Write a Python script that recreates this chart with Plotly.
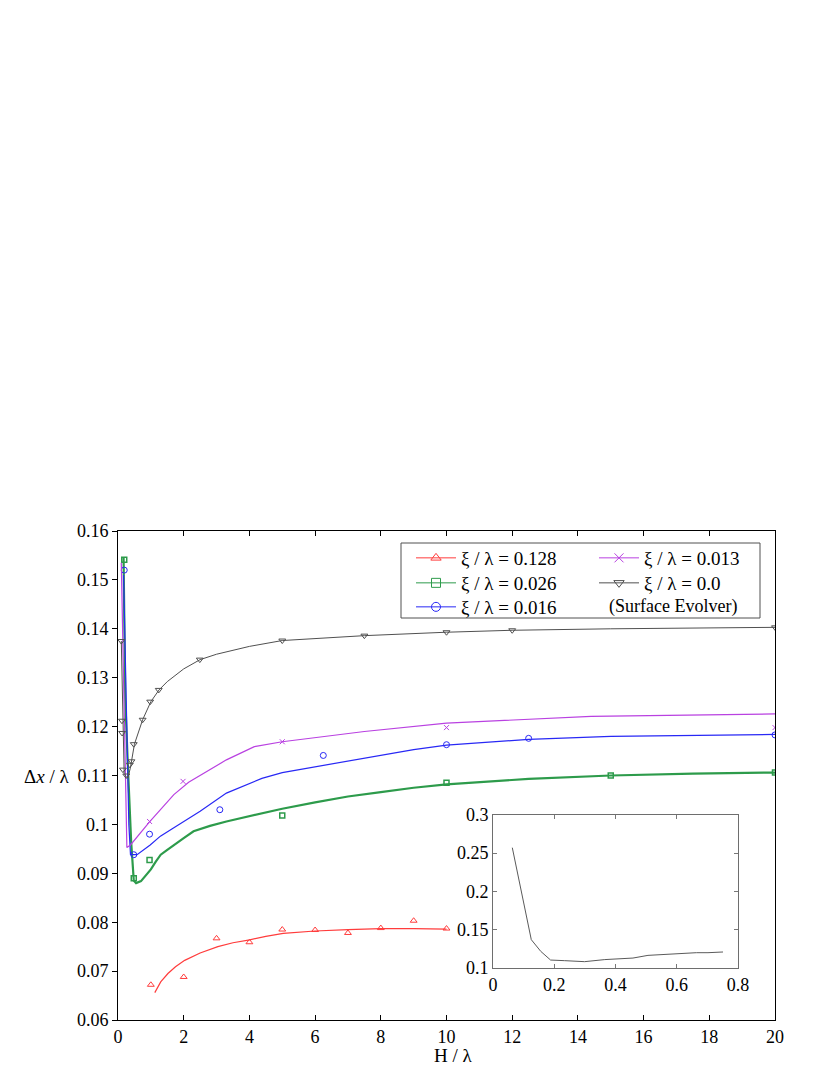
import plotly.graph_objects as go

# ---------------- data ----------------
# xi/lambda = 0.128 (red)
red_pts_x = [1, 2, 3, 4, 5, 6, 7, 8, 9, 10]
red_pts_y = [0.0672, 0.0688, 0.0767, 0.0759, 0.0785, 0.0784, 0.0778, 0.0788, 0.0803, 0.0787]
red_fit_x = [1.12, 1.3, 1.52, 1.75, 2.03, 2.5, 3.04, 3.5, 4.01, 4.5, 5.03, 6, 7, 8, 9, 10]
red_fit_y = [0.0656, 0.0678, 0.0695, 0.0709, 0.0722, 0.0737, 0.0750, 0.0758, 0.0764, 0.0771,
             0.0777, 0.0782, 0.0785, 0.0787, 0.0787, 0.0786]

# xi/lambda = 0.026 (green)
green_pts_x = [0.19, 0.48, 0.96, 5, 10, 15, 20]
green_pts_y = [0.1541, 0.0890, 0.0927, 0.1018, 0.1085, 0.1100, 0.1106]
green_fit_x = [0.17, 0.22, 0.3, 0.4, 0.48, 0.55, 0.7, 0.85, 1.0, 1.15, 1.3, 1.5, 1.7, 2.0, 2.3,
               2.8, 3.3, 4, 5, 6, 7, 8, 9, 10, 12.5, 15, 17.5, 20]
green_fit_y = [0.1545, 0.1258, 0.1120, 0.0965, 0.0885, 0.0880, 0.0884, 0.0895, 0.0908, 0.0924,
               0.0938, 0.0948, 0.0958, 0.0972, 0.0986, 0.0997, 0.1006, 0.1017, 0.1032, 0.1045,
               0.1057, 0.1066, 0.1075, 0.1082, 0.1093, 0.1100, 0.1104, 0.1106]

# xi/lambda = 0.016 (blue)
blue_pts_x = [0.19, 0.48, 0.96, 3.1, 6.25, 10, 12.5, 20]
blue_pts_y = [0.1520, 0.0938, 0.0980, 0.1030, 0.1141, 0.1163, 0.1176, 0.1183]
blue_fit_x = [0.17, 0.25, 0.33, 0.38, 0.58, 0.98, 1.29, 1.7, 2.5, 3.3, 4.38, 5.0, 6, 7, 8, 9,
              10, 12.5, 15, 20]
blue_fit_y = [0.1510, 0.1250, 0.1000, 0.0938, 0.0938, 0.0958, 0.0976, 0.0993, 0.1027, 0.1064,
              0.1094, 0.1106, 0.1118, 0.1130, 0.1142, 0.1153, 0.1162, 0.1174, 0.1180, 0.1184]

# xi/lambda = 0.013 (magenta)
mag_pts_x = [0.96, 1.98, 5, 10, 20]
mag_pts_y = [0.1006, 0.1088, 0.1169, 0.1198, 0.1198]
mag_fit_x = [0.1, 0.27, 0.38, 0.96, 1.7, 2.15, 3.3, 4.15, 5.0, 7.5, 10, 14.4, 20]
mag_fit_y = [0.1535, 0.0953, 0.0958, 0.1005, 0.1061, 0.1086, 0.1132, 0.1159, 0.1169, 0.1190,
             0.1207, 0.1221, 0.1226]

# xi/lambda = 0.0, Surface Evolver (black)
blk_pts_x = [0.1, 0.12, 0.125, 0.15, 0.25, 0.36, 0.41, 0.48, 0.75, 0.98, 1.24, 2.49, 5, 7.5,
             10, 12, 20]
blk_pts_y = [0.1375, 0.1212, 0.1187, 0.1112, 0.1100, 0.1122, 0.1129, 0.1164, 0.1214, 0.1251,
             0.1275, 0.1337, 0.1376, 0.1386, 0.1393, 0.1397, 0.1403]
blk_fit_x = [0.1, 0.156, 0.1875, 0.25, 0.3, 0.375, 0.5, 0.75, 1.0, 1.25, 1.5, 2.0, 2.5, 3.0,
             4.0, 5.0, 7.5, 10, 12, 15, 20]
blk_fit_y = [0.1375, 0.1217, 0.1104, 0.1097, 0.1095, 0.1115, 0.1164, 0.1214, 0.1251, 0.1275,
             0.1292, 0.1318, 0.1337, 0.1348, 0.1364, 0.1376, 0.1386, 0.1393, 0.1397, 0.1400,
             0.1403]

# inset: Surface Evolver at small H/lambda
inset_x = [0.063, 0.125, 0.156, 0.188, 0.234, 0.299, 0.365, 0.424, 0.457, 0.506, 0.56, 0.615,
           0.664, 0.702, 0.751]
inset_y = [0.257, 0.137, 0.1217, 0.1104, 0.1096, 0.1083, 0.111, 0.112, 0.113, 0.1165, 0.118,
           0.1187, 0.12, 0.12, 0.1209]

x_ticks = [0, 2, 4, 6, 8, 10, 12, 14, 16, 18, 20]
y_ticks = [0.06, 0.07, 0.08, 0.09, 0.10, 0.11, 0.12, 0.13, 0.14, 0.15, 0.16]
y_ticktext = ["0.06", "0.07", "0.08", "0.09", "0.1", "0.11", "0.12", "0.13", "0.14", "0.15", "0.16"]
ix_ticks = [0, 0.2, 0.4, 0.6, 0.8]
ix_ticktext = ["0", "0.2", "0.4", "0.6", "0.8"]
iy_ticks = [0.1, 0.15, 0.2, 0.25, 0.3]
iy_ticktext = ["0.1", "0.15", "0.2", "0.25", "0.3"]

# ---------------- styles ----------------
RED = "rgb(255,60,60)"
GREEN = "rgb(45,155,75)"
BLUE = "rgb(40,40,245)"
MAG = "rgb(185,65,225)"
BLK = "rgb(80,80,80)"
FONT = "Liberation Serif"


def px_x(p):
    return (p - 110) / 657


def px_y(p):
    return (1012 - p) / 489


fig = go.Figure()

series = [
    ("ξ / λ = 0.128", RED, 1.2, "triangle-up-open", 6, red_fit_x, red_fit_y, red_pts_x, red_pts_y, "legend"),
    ("ξ / λ = 0.026", GREEN, 2.2, "square-open", 5, green_fit_x, green_fit_y, green_pts_x, green_pts_y, "legend2"),
    ("ξ / λ = 0.016", BLUE, 1.2, "circle-open", 6, blue_fit_x, blue_fit_y, blue_pts_x, blue_pts_y, "legend3"),
    ("ξ / λ = 0.013", MAG, 1.2, "x-thin-open", 5, mag_fit_x, mag_fit_y, mag_pts_x, mag_pts_y, "legend4"),
    ("ξ / λ = 0.0", BLK, 1.0, "triangle-down-open", 6, blk_fit_x, blk_fit_y, blk_pts_x, blk_pts_y, "legend5"),
]

for name, col, lw, sym, ms, fx, fy, px, py, lg in series:
    fig.add_trace(go.Scatter(x=fx, y=fy, mode="lines", line=dict(color=col, width=lw),
                             showlegend=False, hoverinfo="skip"))
    fig.add_trace(go.Scatter(x=px, y=py, mode="markers",
                             marker=dict(symbol=sym, size=ms, color=col,
                                         line=dict(color=col, width=1.5 if sym == "square-open" else 1)),
                             showlegend=False))
    fig.add_trace(go.Scatter(x=[None], y=[None], mode="lines+markers", name=name,
                             line=dict(color=col, width=1),
                             marker=dict(symbol=sym, size=9, color=col, line=dict(color=col, width=1)),
                             legend=lg))

fig.add_trace(go.Scatter(x=inset_x, y=inset_y, mode="lines", line=dict(color="rgb(90,90,90)", width=1),
                         xaxis="x2", yaxis="y2", showlegend=False))

tickfont = dict(family=FONT, size=18, color="black")
legfont = dict(family=FONT, size=19, color="black")


def leg(xp, yp):
    return dict(x=px_x(xp), y=px_y(yp), xanchor="left", yanchor="middle",
                bgcolor="rgba(0,0,0,0)", borderwidth=0, font=legfont, itemwidth=40)


fig.update_layout(
    width=830, height=1075,
    margin=dict(l=110, r=63, t=523, b=63),
    paper_bgcolor="white", plot_bgcolor="white",
    font=dict(family=FONT, size=18, color="black"),
    xaxis=dict(range=[0, 20], tickvals=x_ticks, ticks="inside", ticklen=5, tickcolor="black",
               showline=True, linecolor="black", linewidth=1, mirror="ticks", showgrid=False,
               zeroline=False, tickfont=tickfont, domain=[0, 1]),
    yaxis=dict(range=[0.06, 0.16], tickvals=y_ticks, ticktext=y_ticktext, ticks="outside",
               ticklen=5, tickcolor="black", showline=True, linecolor="black", linewidth=1,
               mirror=True, showgrid=False, zeroline=False, tickfont=tickfont, domain=[0, 1]),
    yaxis3=dict(range=[0.06, 0.16], tickvals=y_ticks, overlaying="y", side="right",
                ticks="inside", ticklen=5, tickcolor="black", showticklabels=False,
                showgrid=False, zeroline=False, showline=False),
    xaxis2=dict(domain=[0.5708, 0.9437], anchor="y2", range=[0, 0.8], tickvals=ix_ticks,
                ticktext=ix_ticktext, ticks="inside", ticklen=4, tickcolor="rgb(120,120,120)",
                showline=True, linecolor="rgb(110,110,110)", linewidth=1, mirror="ticks",
                showgrid=False, zeroline=False, tickfont=tickfont),
    yaxis2=dict(domain=[0.1063, 0.4198], anchor="x2", range=[0.1, 0.3], tickvals=iy_ticks,
                ticktext=iy_ticktext, ticks="inside", ticklen=4, tickcolor="rgb(120,120,120)",
                showline=True, linecolor="rgb(110,110,110)", linewidth=1, mirror="ticks",
                showgrid=False, zeroline=False, tickfont=tickfont),
    legend=leg(403, 550),
    legend2=leg(403, 575),
    legend3=leg(403, 599),
    legend4=leg(586, 550),
    legend5=leg(586, 575),
    shapes=[dict(type="rect", xref="paper", yref="paper", x0=px_x(393), x1=px_x(752),
                 y0=px_y(610), y1=px_y(535), line=dict(color="rgb(80,80,80)", width=1),
                 fillcolor="rgba(0,0,0,0)")],
    annotations=[
        dict(text="(Surface Evolver)", xref="paper", yref="paper", x=px_x(665), y=px_y(598),
             xanchor="center", yanchor="middle", showarrow=False,
             font=dict(family=FONT, size=18, color="black")),
        dict(text="Δ<i>x</i> / λ", xref="paper", yref="paper", x=px_x(38),
             y=px_y(768), xanchor="center", yanchor="middle", showarrow=False,
             font=dict(family=FONT, size=19, color="black")),
        dict(text="H / λ", xref="paper", yref="paper", x=px_x(445),
             y=px_y(1047), xanchor="center", yanchor="middle", showarrow=False,
             font=dict(family=FONT, size=19, color="black")),
    ],
)

fig.write_html("out.html")
